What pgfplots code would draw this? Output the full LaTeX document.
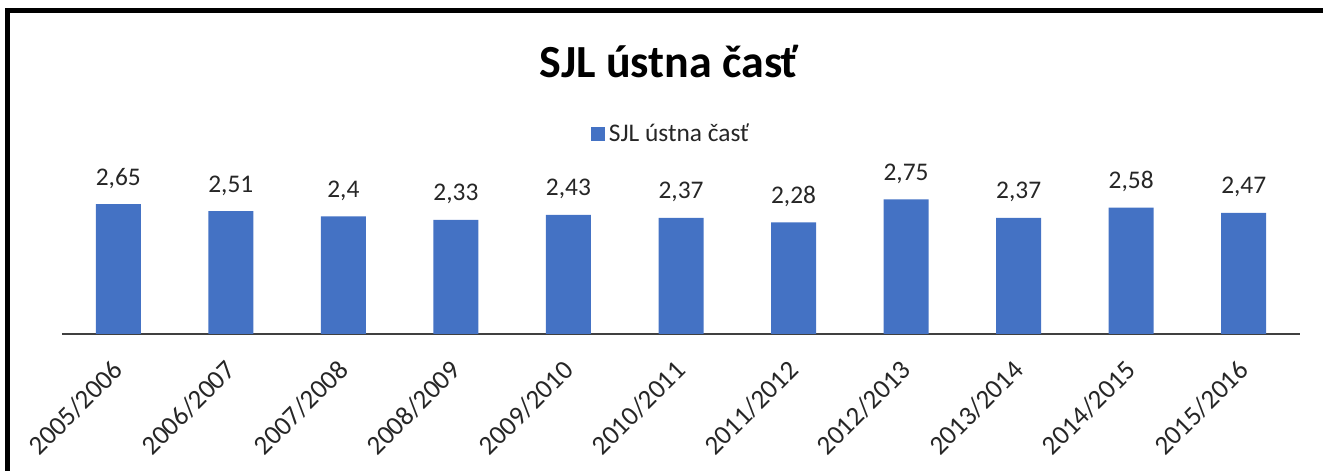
\documentclass[border=0pt]{standalone}
\usepackage{pgfplots}
\pgfplotsset{compat=1.18}
\usepackage{fontspec}
\setmainfont{Carlito}
\definecolor{barblue}{RGB}{68,114,196}
\definecolor{baseln}{RGB}{64,64,64}
\begin{document}
\begin{tikzpicture}
\useasboundingbox (0,0) rectangle (661.5pt,235.5pt);
\draw[line width=2.5pt, line cap=butt, line join=miter] (3.75pt,0pt) -- (3.75pt,230.25pt) -- (661.5pt,230.25pt);
\node[font=\bfseries\fontsize{23}{28}\selectfont, anchor=base] at (334.5pt,196.5pt) {SJL ústna časť};
\begin{axis}[
  at={(31pt,68.5pt)}, anchor=south west,
  scale only axis, width=619pt, height=73.5pt,
  xmin=-0.5, xmax=10.5, ymin=0, ymax=3,
  clip=false,
  axis x line=bottom, axis y line=none,
  x axis line style={-, draw=baseln, line width=0.8pt},
  xtick=data, major tick length=0pt, ytick=\empty,
  xticklabels={2005/2006,2006/2007,2007/2008,2008/2009,2009/2010,2010/2011,2011/2012,2012/2013,2013/2014,2014/2015,2015/2016},
  xticklabel style={rotate=45, anchor=north east, inner sep=0pt, xshift=-10.9pt, yshift=-6pt, font=\fontsize{13.5}{16}\selectfont, text=black!85},
  ybar, bar width=22.5pt,
  nodes near coords,
  every node near coord/.append style={font=\fontsize{12.7}{15}\selectfont, text=black!85, anchor=base, inner sep=0pt, yshift=9.5pt},
  /pgf/number format/.cd, use comma, assume math mode=true, /pgfplots/.cd,
  legend style={at={(0.4927,1.3605)}, anchor=center, draw=none, fill=none, font=\fontsize{12.7}{15}\selectfont, text=black!85},
  legend image code/.code={\fill[barblue] (0pt,-3.5pt) rectangle (7pt,3.5pt);},
]
\addplot[fill=barblue, draw=none] coordinates {
(0,2.65) (1,2.51) (2,2.4) (3,2.33) (4,2.43) (5,2.37) (6,2.28) (7,2.75) (8,2.37) (9,2.58) (10,2.47)};
\addlegendentry{SJL ústna časť}
\end{axis}
\end{tikzpicture}
\end{document}
